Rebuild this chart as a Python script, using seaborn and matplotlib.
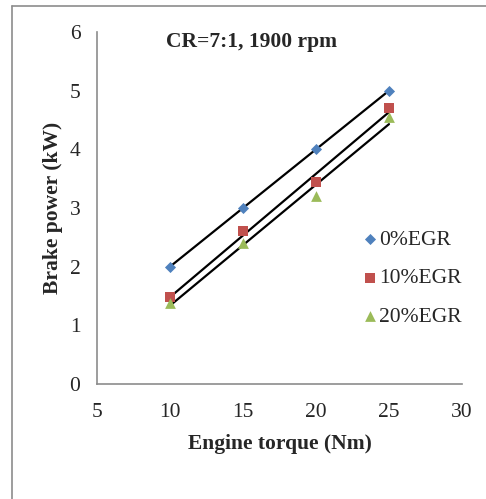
import numpy as np
import pandas as pd
import matplotlib
matplotlib.use('Agg')
import matplotlib.pyplot as plt
from matplotlib.lines import Line2D
import seaborn as sns

# data
torque = [10, 15, 20, 25]
egr0 = [2.0, 3.0, 4.0, 5.0]
egr10 = [1.48, 2.6, 3.45, 4.7]
egr20 = [1.38, 2.4, 3.2, 4.55]
labels = ['0%EGR', '10%EGR', '20%EGR']

sns.set_style('white')
plt.rcParams['font.family'] = ['Liberation Serif', 'DejaVu Serif']

df = pd.DataFrame({'torque': torque * 3,
                   'power': egr0 + egr10 + egr20,
                   'series': [labels[0]] * 4 + [labels[1]] * 4 + [labels[2]] * 4})

fig = plt.figure(figsize=(4.86, 4.99), dpi=100)
ax = fig.add_axes([0.1996, 0.2305, 0.751, 0.7054])

colors = ['#4F81BD', '#C0504D', '#9BBB59']
markers = {'0%EGR': 'D', '10%EGR': 's', '20%EGR': '^'}
sizes = {'0%EGR': 32, '10%EGR': 60, '20%EGR': 60}
for lab, c in zip(labels, colors):
    sub = df[df.series == lab]
    sns.regplot(data=sub, x='torque', y='power', ax=ax, ci=None, scatter=False,
                line_kws={'color': 'black', 'lw': 1.6})
for lab, c in zip(labels, colors):
    sub = df[df.series == lab]
    ax.scatter(sub.torque, sub.power, marker=markers[lab], s=sizes[lab], color=c,
               label=lab, zorder=3, linewidths=0)

fs = 15.5
ax.set_xlim(5, 30)
ax.set_ylim(0, 6)
ax.set_xticks(range(5, 31, 5))
ax.set_yticks(range(0, 7))
ax.tick_params(axis='x', labelsize=fs, length=0, pad=14)
ax.tick_params(axis='y', labelsize=fs, length=0, pad=12)
for s in ['top', 'right']:
    ax.spines[s].set_visible(False)
for s in ['left', 'bottom']:
    ax.spines[s].set_color('#8c8c8c')
    ax.spines[s].set_linewidth(1.2)

ax.set_xlabel('Engine torque (Nm)', fontsize=fs, fontweight='bold', labelpad=8)
ax.set_ylabel('Brake power (kW)', fontsize=fs, fontweight='bold', labelpad=5)
ax.text(0.19, 0.972, 'CR=7:1, 1900 rpm', transform=ax.transAxes, fontsize=fs,
        fontweight='bold', va='center')

ax.legend(loc='center left', bbox_to_anchor=(0.66, 0.30), frameon=False,
          fontsize=fs, handletextpad=-0.2, labelspacing=0.85, handlelength=1.2)

# outer chart frame (left and top edges visible)
fig.add_artist(Line2D([12 / 486, 12 / 486], [0, 1 - 6 / 499], color='#8c8c8c', lw=1.2,
                      transform=fig.transFigure))
fig.add_artist(Line2D([12 / 486, 1], [1 - 6 / 499, 1 - 6 / 499], color='#8c8c8c', lw=1.2,
                      transform=fig.transFigure))

fig.savefig('out.png', dpi=100)
